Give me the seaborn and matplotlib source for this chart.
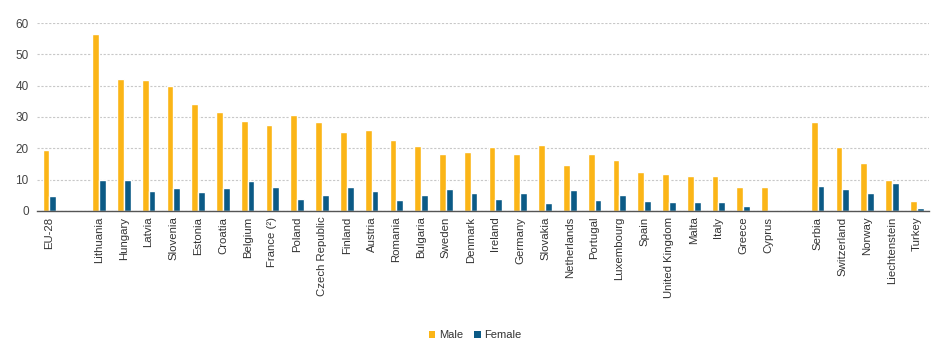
import matplotlib
matplotlib.use("Agg")
import matplotlib.pyplot as plt
import seaborn as sns
import pandas as pd
import numpy as np

countries = ["EU-28", " ", "Lithuania", "Hungary", "Latvia", "Slovenia", "Estonia", "Croatia",
             "Belgium", "France (²)", "Poland", "Czech Republic", "Finland", "Austria", "Romania",
             "Bulgaria", "Sweden", "Denmark", "Ireland", "Germany", "Slovakia", "Netherlands",
             "Portugal", "Luxembourg", "Spain", "United Kingdom", "Malta", "Italy", "Greece",
             "Cyprus", "  ", "Serbia", "Switzerland", "Norway", "Liechtenstein", "Turkey"]
male = [19.5, np.nan, 56.5, 42.0, 41.7, 39.8, 34.2, 31.5, 28.8, 27.3, 30.5, 28.5, 25.2, 25.9,
        22.8, 20.7, 18.1, 18.9, 20.4, 18.1, 21.1, 14.8, 18.1, 16.3, 12.3, 11.8, 11.2, 11.2,
        7.6, 7.6, np.nan, 28.5, 20.4, 15.3, 9.9, 3.1]
female = [4.8, np.nan, 10.0, 10.0, 6.4, 7.4, 6.1, 7.4, 9.6, 7.8, 3.8, 5.1, 7.8, 6.4, 3.4, 5.1,
          6.9, 5.7, 3.8, 5.7, 2.4, 6.6, 3.6, 5.1, 3.3, 2.8, 2.8, 2.8, 1.5, 0.4, np.nan, 7.9,
          6.9, 5.7, 9.0, 1.0]
series = ["Male", "Female"]
colors = ["#FBB517", "#0B5A86"]

df = pd.DataFrame({
    "country": countries * 2,
    "value": male + female,
    "sex": ["Male"] * len(countries) + ["Female"] * len(countries),
})

sns.set_style("white")
plt.rcParams["font.family"] = ["Liberation Sans", "DejaVu Sans"]

fig = plt.figure(figsize=(9.5, 3.54), dpi=100)
ax = fig.add_axes([0.039, 0.404, 0.939, 0.531])

sns.barplot(data=df, x="country", y="value", hue="sex", order=countries, hue_order=series,
            palette=colors, width=0.55, saturation=1, ax=ax, legend=False)

ax.set_ylim(0, 60)
ax.set_xlim(-0.5, len(countries) - 0.5)
ax.set_yticks(range(0, 61, 10))
ax.yaxis.grid(True, linestyle=(0, (2, 1.5)), color="#c8c8c8", linewidth=0.8)
ax.set_axisbelow(True)
for s in ["top", "right", "left"]:
    ax.spines[s].set_visible(False)
ax.spines["bottom"].set_color("#555555")
ax.spines["bottom"].set_linewidth(1.0)

ax.set_xticks(range(len(countries)))
ax.set_xticklabels([c.strip() for c in countries], rotation=90, fontsize=8.2, color="#333333")
ax.set_xticks(np.arange(-0.5, len(countries), 1), minor=True)
ax.tick_params(axis="x", which="major", length=0, pad=4)
ax.tick_params(axis="x", which="minor", length=4, color="#555555", direction="out")
ax.tick_params(axis="y", length=0, labelsize=8.5, labelcolor="#444444", pad=6)
ax.set_xlabel("")
ax.set_ylabel("")

from matplotlib.patches import Patch
handles = [Patch(facecolor=c, edgecolor="none") for c in colors]
fig.legend(handles, series, loc="center", bbox_to_anchor=(0.5, 0.053), ncol=2, frameon=False,
           fontsize=8, handlelength=0.6, handleheight=0.6, handletextpad=0.3, columnspacing=1.0,
           labelcolor="#333333")

fig.savefig("out.png", dpi=100)
